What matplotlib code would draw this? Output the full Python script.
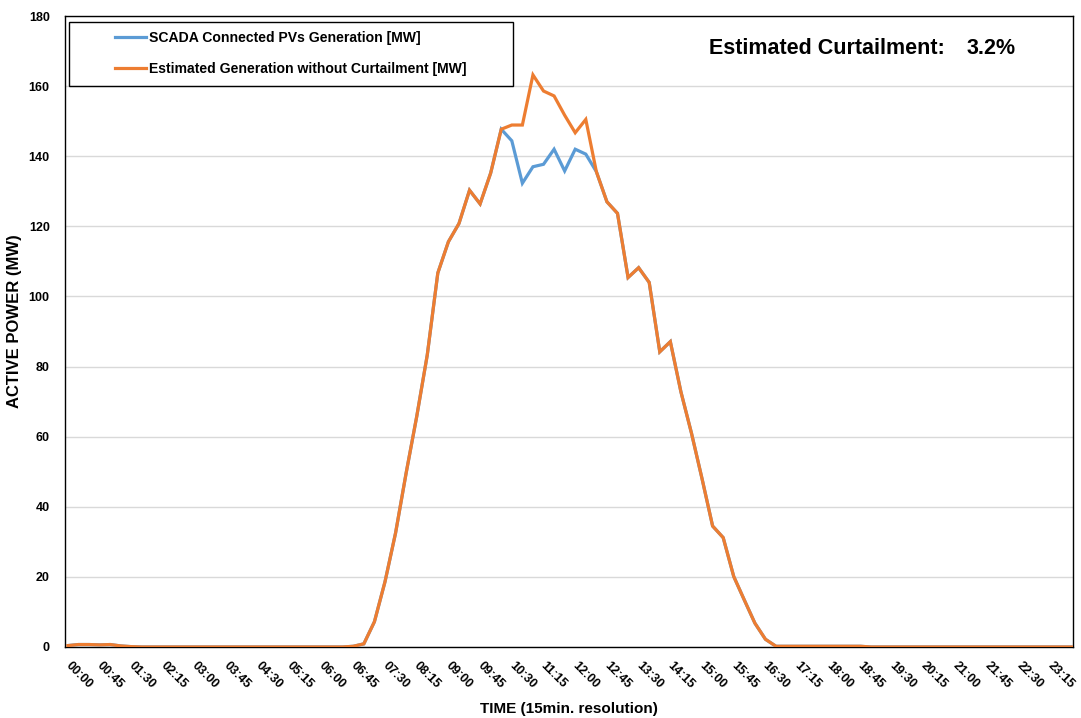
import matplotlib
matplotlib.use("Agg")
import matplotlib.pyplot as plt
import matplotlib.transforms as mtransforms
from matplotlib.patches import Rectangle

plt.rcParams['font.family'] = ['Liberation Sans', 'DejaVu Sans']
plt.rcParams['font.weight'] = 'bold'

# 15-minute time slots for one day
times = [f"{(m // 60):02d}:{(m % 60):02d}" for m in range(0, 24 * 60, 15)]

# Estimated generation without curtailment [MW]
estimated = [
    0.4, 0.7, 0.7, 0.6, 0.7, 0.3, 0.1, 0.0, 0.0, 0.0, 0.0, 0.0,
    0.0, 0.0, 0.0, 0.0, 0.0, 0.0, 0.0, 0.0, 0.0, 0.0, 0.0, 0.0,
    0.0, 0.0, 0.0, 0.2, 0.9, 7.2, 18.6, 32.5, 49.6, 65.7, 83.3, 106.7,
    115.6, 120.8, 130.3, 126.4, 135.2, 147.7, 148.9, 148.9, 163.2, 158.6, 157.2, 151.7,
    146.7, 150.5, 135.6, 127.0, 123.7, 105.4, 108.2, 104.0, 84.2, 87.1, 72.8, 61.0,
    48.0, 34.5, 31.2, 20.1, 13.4, 6.8, 2.2, 0.2, 0.2, 0.2, 0.2, 0.2,
    0.2, 0.2, 0.2, 0.2, 0.0, 0.0, 0.0, 0.0, 0.0, 0.0, 0.0, 0.0,
    0.0, 0.0, 0.0, 0.0, 0.0, 0.0, 0.0, 0.0, 0.0, 0.0, 0.0, 0.0,
]

# SCADA measured generation [MW] - differs only around noon
scada = list(estimated)
scada[42:50] = [144.4, 132.3, 137.0, 137.7, 142.0, 135.8, 142.0, 140.6]

curtailment_pct = 3.2

blue = '#5B9BD5'
orange = '#ED7D31'

fig = plt.figure(figsize=(10.81, 7.18), dpi=100)
ax = fig.add_axes([0.0601, 0.0989, 0.9325, 0.8788])

x = list(range(len(times)))
ax.plot(x, scada, color=blue, lw=2.3, label='SCADA Connected PVs Generation [MW]',
        solid_joinstyle='miter', zorder=3)
ax.plot(x, estimated, color=orange, lw=2.3, label='Estimated Generation without Curtailment [MW]',
        solid_joinstyle='miter', zorder=4)

ax.set_xlim(-0.28, 95.1)
ax.set_ylim(0, 180)
ax.set_yticks(range(0, 181, 20))
ax.yaxis.grid(True, color='#d9d9d9', lw=1.0)
ax.set_axisbelow(True)

ax.set_xticks(x[::3])
ax.set_xticklabels(times[::3], rotation=-45, ha='left', va='top', fontsize=9)
ax.tick_params(axis='x', length=0, pad=9)
ax.tick_params(axis='y', length=0, pad=11, labelsize=9)
shift = mtransforms.ScaledTranslation(-5 / 100, 0, fig.dpi_scale_trans)
for lbl in ax.get_xticklabels():
    lbl.set_transform(lbl.get_transform() + shift)

for s in ax.spines.values():
    s.set_color('black')
    s.set_linewidth(1.0)

ax.set_xlabel('TIME (15min. resolution)', fontsize=11, fontweight='bold')
ax.xaxis.set_label_coords(0.5, -0.087)
ax.set_ylabel('ACTIVE POWER (MW)', fontsize=12, fontweight='bold')
ax.yaxis.set_label_coords(-0.043, 0.517)

# legend box
ax.add_patch(Rectangle((0.004, 0.889), 0.44, 0.101, transform=ax.transAxes,
                       fill=False, edgecolor='black', lw=1.0, zorder=5))
ax.legend(loc='upper left', bbox_to_anchor=(0.0496, 0.976), frameon=False,
          fontsize=10.1, borderpad=0, borderaxespad=0, handlelength=2.2,
          handletextpad=0.2, labelspacing=1.18)

fig.text(709 / 1081, 1 - 49 / 718, 'Estimated Curtailment:', fontsize=15.5,
         fontweight='bold', ha='left', va='center')
fig.text(967 / 1081, 1 - 49 / 718, f'{curtailment_pct}%', fontsize=15.5,
         fontweight='bold', ha='left', va='center')

fig.savefig('out.png', dpi=100)
